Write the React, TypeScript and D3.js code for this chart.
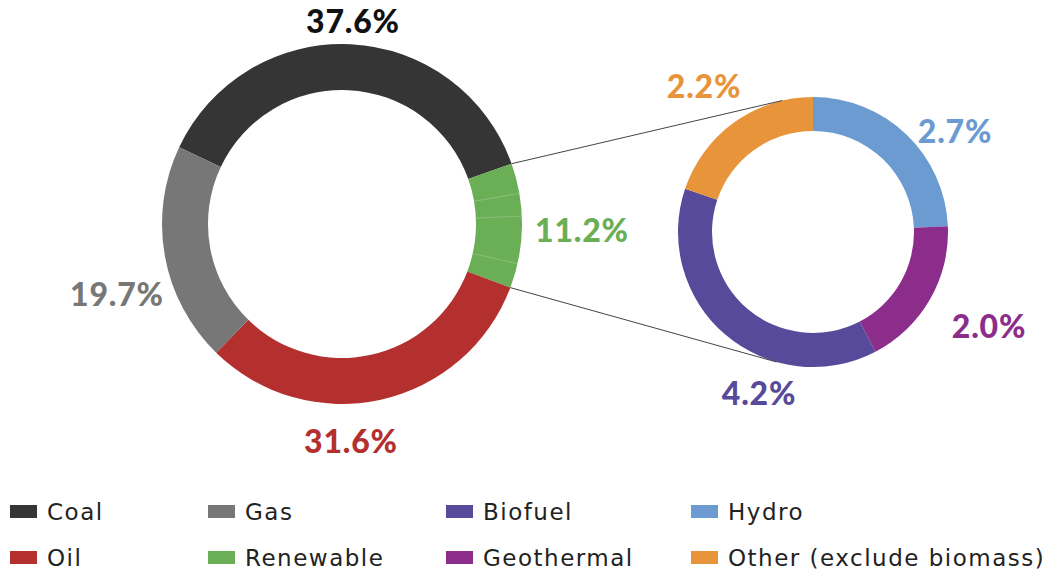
import React from "react";
import * as d3 from "d3";

const mainCategories = ["Coal", "Renewable", "Oil", "Gas"];
const mainValues = [37.6, 11.2, 31.6, 19.7];
const mainColors = ["#353535", "#6aae55", "#b3302e", "#777777"];
const mainLabelColors = ["#111111", "#6aae55", "#b3302e", "#777777"];

const subCategories = ["Hydro", "Geothermal", "Biofuel", "Other (exclude biomass)"];
const subValues = [2.7, 2.0, 4.2, 2.2];
const subColors = ["#6b9bd0", "#8c2d8c", "#574a9a", "#e8943a"];

const legendRow1 = ["Coal", "Gas", "Biofuel", "Hydro"];
const legendRow2 = ["Oil", "Renewable", "Geothermal", "Other (exclude biomass)"];

const W = 1047;
const H = 574;
const deg = Math.PI / 180;

// layout
const C1 = { x: 342, y: 224, R: 180, r: 134 };
const C2 = { x: 813, y: 232, R: 135, r: 101 };
const mainStart = -64.8 * deg;
// label anchor positions (center x, baseline y)
const mainLabelPos = [
  [353, 33],
  [582, 242],
  [351, 453],
  [117, 306],
];
const subLabelPos = [
  [955, 143],
  [989, 338],
  [759, 405],
  [704, 98],
];

const colorOf: Record<string, string> = {};
mainCategories.forEach((c, i) => (colorOf[c] = mainColors[i]));
subCategories.forEach((c, i) => (colorOf[c] = subColors[i]));

function pointAt(cx: number, cy: number, r: number, a: number) {
  return [cx + r * Math.sin(a), cy - r * Math.cos(a)];
}

function tangent(px: number, py: number, cx: number, cy: number, r: number, upper: boolean) {
  const dx = px - cx, dy = py - cy;
  const d = Math.hypot(dx, dy);
  const base = Math.atan2(dy, dx);
  const off = Math.acos(r / d);
  const cands = [base + off, base - off].map((t) => [cx + r * Math.cos(t), cy + r * Math.sin(t)]);
  cands.sort((a, b) => a[1] - b[1]);
  return upper ? cands[0] : cands[1];
}

export default function App() {
  const mainPie = d3
    .pie<number>()
    .sort(null)
    .startAngle(mainStart)
    .endAngle(mainStart + 2 * Math.PI)(mainValues);
  const arc1 = d3.arc<any>().innerRadius(C1.r).outerRadius(C1.R);

  const ren = mainPie[1];
  const subInMain = d3
    .pie<number>()
    .sort(null)
    .startAngle(ren.startAngle)
    .endAngle(ren.endAngle)(subValues);

  const subPie = d3.pie<number>().sort(null).startAngle(0).endAngle(2 * Math.PI)(subValues);
  const arc2 = d3.arc<any>().innerRadius(C2.r).outerRadius(C2.R);

  const p1 = pointAt(C1.x, C1.y, C1.R, ren.startAngle);
  const p2 = pointAt(C1.x, C1.y, C1.R, ren.endAngle);
  const t1 = tangent(p1[0], p1[1], C2.x, C2.y, C2.R, true);
  const t2 = tangent(p2[0], p2[1], C2.x, C2.y, C2.R, false);

  const labelFont = "Lato, 'DejaVu Sans', sans-serif";
  const legendCols = [10, 208, 446, 691];
  const legendRowsY = [520, 566];

  return (
    <svg
      width={W}
      height={H}
      style={{ position: "absolute", left: 0, top: 0, background: "#fff" }}
    >
      <g transform={`translate(${C1.x},${C1.y})`}>
        {mainPie.map((d, i) => (
          <path key={i} d={arc1(d) as string} fill={mainColors[i]} />
        ))}
        {subInMain.slice(1).map((d, i) => {
          const a = pointAt(0, 0, C1.r, d.startAngle);
          const b = pointAt(0, 0, C1.R, d.startAngle);
          return (
            <line
              key={i}
              x1={a[0]}
              y1={a[1]}
              x2={b[0]}
              y2={b[1]}
              stroke="#ffffff"
              strokeOpacity={0.22}
              strokeWidth={1}
            />
          );
        })}
      </g>

      <g transform={`translate(${C2.x},${C2.y})`}>
        {subPie.map((d, i) => (
          <path key={i} d={arc2(d) as string} fill={subColors[i]} />
        ))}
      </g>

      <line x1={p1[0]} y1={p1[1]} x2={t1[0]} y2={t1[1]} stroke="#444" strokeWidth={1} />
      <line x1={p2[0]} y1={p2[1]} x2={t2[0]} y2={t2[1]} stroke="#444" strokeWidth={1} />

      {mainValues.map((v, i) => (
        <text
          key={"ml" + i}
          x={mainLabelPos[i][0]}
          y={mainLabelPos[i][1]}
          textAnchor="middle"
          fontFamily={labelFont}
          fontWeight={900}
          fontSize={32}
          letterSpacing={0.8}
          fill={mainLabelColors[i]}
        >
          {v.toFixed(1)}%
        </text>
      ))}
      {subValues.map((v, i) => (
        <text
          key={"sl" + i}
          x={subLabelPos[i][0]}
          y={subLabelPos[i][1]}
          textAnchor="middle"
          fontFamily={labelFont}
          fontWeight={900}
          fontSize={32}
          letterSpacing={0.8}
          fill={subColors[i]}
        >
          {v.toFixed(1)}%
        </text>
      ))}

      {[legendRow1, legendRow2].map((row, ri) =>
        row.map((name, ci) => (
          <g key={name} transform={`translate(${legendCols[ci]},${legendRowsY[ri]})`}>
            <rect x={0} y={-15} width={27} height={13} fill={colorOf[name]} />
            <text
              x={37}
              y={0}
              fontFamily="'DejaVu Sans', sans-serif"
              fontSize={23}
              letterSpacing={1.5}
              fill="#222"
            >
              {name}
            </text>
          </g>
        ))
      )}
    </svg>
  );
}
